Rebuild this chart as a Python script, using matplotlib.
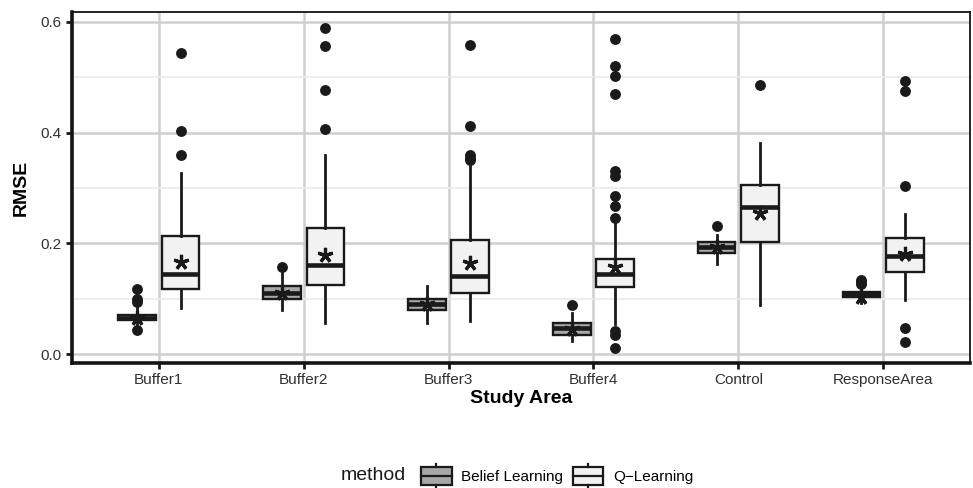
import matplotlib
matplotlib.use("Agg")
from matplotlib import pyplot as plt
from matplotlib.legend_handler import HandlerBase
from matplotlib.patches import Rectangle, Patch
from matplotlib.lines import Line2D
import numpy

plt.rcParams['font.family'] = ['Liberation Sans', 'DejaVu Sans']

areas = ['Buffer1', 'Buffer2', 'Buffer3', 'Buffer4', 'Control', 'ResponseArea']
methods = ['Belief Learning', 'Q\u2212Learning']

# box statistics per study area (RMSE)
belief_q1 = [0.061, 0.099, 0.080, 0.035, 0.182, 0.103]
belief_med = [0.066, 0.110, 0.090, 0.047, 0.193, 0.108]
belief_q3 = [0.071, 0.123, 0.100, 0.057, 0.203, 0.112]
belief_lo = [0.050, 0.079, 0.057, 0.023, 0.163, 0.092]
belief_hi = [0.085, 0.150, 0.123, 0.074, 0.215, 0.122]
belief_mean = [0.066, 0.110, 0.090, 0.045, 0.193, 0.103]
belief_out = [[0.118, 0.099, 0.094, 0.043], [0.158], [], [0.089], [0.231],
              [0.134, 0.130, 0.126]]

qlearn_q1 = [0.118, 0.124, 0.110, 0.121, 0.202, 0.148]
qlearn_med = [0.145, 0.161, 0.141, 0.145, 0.266, 0.178]
qlearn_q3 = [0.214, 0.228, 0.206, 0.172, 0.306, 0.210]
qlearn_lo = [0.083, 0.056, 0.059, 0.055, 0.089, 0.098]
qlearn_hi = [0.327, 0.360, 0.345, 0.237, 0.382, 0.253]
qlearn_mean = [0.167, 0.179, 0.164, 0.158, 0.255, 0.181]
qlearn_out = [[0.544, 0.403, 0.359],
              [0.589, 0.556, 0.478, 0.406],
              [0.559, 0.412, 0.360, 0.355, 0.351],
              [0.569, 0.520, 0.503, 0.470, 0.330, 0.322, 0.285, 0.267, 0.246,
               0.041, 0.035, 0.011],
              [0.486],
              [0.494, 0.476, 0.304, 0.047, 0.022]]

fills = ['#a8a8a8', '#f2f2f2']
dodge = 0.15
box_w = 0.26


def make_stats(q1, med, q3, lo, hi, mean, out):
    return [dict(q1=a, med=b, q3=c, whislo=d, whishi=e, mean=f, fliers=g)
            for a, b, c, d, e, f, g in zip(q1, med, q3, lo, hi, mean, out)]


class BoxKey(HandlerBase):
    # legend key drawn as a small box with median and whisker stubs
    def create_artists(self, legend, orig_handle, xdescent, ydescent,
                       width, height, fontsize, trans):
        x0, y0 = -xdescent, -ydescent
        cx, cy = x0 + width / 2, y0 + height / 2
        bh = height * 0.74
        rect = Rectangle((x0, cy - bh / 2), width, bh,
                         facecolor=orig_handle.get_facecolor(),
                         edgecolor='#1a1a1a', lw=1.6, transform=trans)
        mid = Line2D([x0, x0 + width], [cy, cy], color='#1a1a1a', lw=1.6,
                     transform=trans)
        wt = Line2D([cx, cx], [cy + bh / 2, y0 + height], color='#1a1a1a',
                    lw=1.6, transform=trans)
        wb = Line2D([cx, cx], [cy - bh / 2, y0], color='#1a1a1a', lw=1.6,
                    transform=trans)
        return [rect, mid, wt, wb]


fig = plt.figure(figsize=(9.73, 4.88), dpi=100)
ax = fig.add_axes([72 / 973, 1 - 363 / 488, 898 / 973, 351 / 488])

pos = numpy.arange(1, len(areas) + 1)
groups = [
    make_stats(belief_q1, belief_med, belief_q3, belief_lo, belief_hi,
               belief_mean, belief_out),
    make_stats(qlearn_q1, qlearn_med, qlearn_q3, qlearn_lo, qlearn_hi,
               qlearn_mean, qlearn_out),
]

for k, stats in enumerate(groups):
    offs = -dodge if k == 0 else dodge
    ax.bxp(stats, positions=pos + offs, widths=box_w, showcaps=False,
           showmeans=False, patch_artist=True,
           boxprops=dict(facecolor=fills[k], edgecolor='#1a1a1a', lw=1.7),
           medianprops=dict(color='#1a1a1a', lw=3.3, solid_capstyle='butt'),
           whiskerprops=dict(color='#1a1a1a', lw=2.0),
           flierprops=dict(marker='o', markerfacecolor='#1a1a1a',
                           markeredgecolor='#1a1a1a', markersize=6.8),
           zorder=3)
    means = [s['mean'] for s in stats]
    ax.plot(pos + offs, means, linestyle='none', marker=(5, 2, 0),
            markersize=11, markeredgewidth=2.3, color='#1a1a1a', zorder=5)

ax.set_xlim(0.4, 6.6)
ax.set_ylim(-0.016, 0.618)
ax.set_xticks(pos)
ax.set_xticklabels(areas)
ax.set_yticks([0.0, 0.2, 0.4, 0.6])
ax.set_yticklabels(['0.0', '0.2', '0.4', '0.6'])
ax.set_yticks([0.1, 0.3, 0.5], minor=True)
ax.tick_params(axis='y', which='minor', length=0)
ax.tick_params(axis='both', which='major', labelsize=11, labelcolor='#303030',
               color='#1a1a1a', width=2, length=4.5, direction='out', pad=3)

ax.grid(True, which='major', color='#cfcfcf', lw=1.8)
ax.grid(True, which='minor', axis='y', color='#ececec', lw=1.3)
ax.set_axisbelow(True)

for side in ['left', 'bottom']:
    ax.spines[side].set_linewidth(2.6)
    ax.spines[side].set_color('#141414')
for side in ['top', 'right']:
    ax.spines[side].set_linewidth(1.3)
    ax.spines[side].set_color('#141414')

ax.set_xlabel('Study Area', fontsize=14, fontweight='bold', labelpad=2)
ax.set_ylabel('RMSE', fontsize=14, fontweight='bold', labelpad=8)

fig.text(373 / 973, 1 - 476 / 488, 'method', fontsize=14, ha='center',
         va='center', color='#1a1a1a')
handles = [Patch(facecolor=f, edgecolor='#1a1a1a') for f in fills]
fig.legend(handles, methods, handler_map={Patch: BoxKey()}, ncol=2,
           loc='center left', bbox_to_anchor=(421 / 973, 1 - 476 / 488),
           frameon=False, fontsize=11, handlelength=2.0, handleheight=2.0,
           handletextpad=0.65, columnspacing=0.6, borderpad=0,
           borderaxespad=0)

fig.savefig('out.png', dpi=100)
